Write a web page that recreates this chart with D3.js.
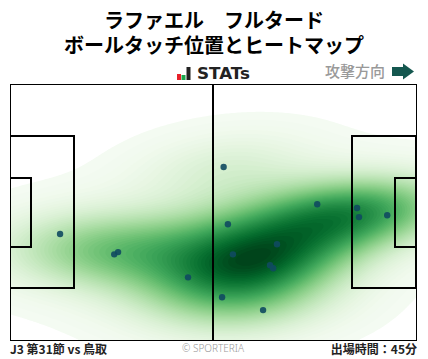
<!DOCTYPE html>
<html>
<head>
<meta charset="utf-8">
<script src="https://cdn.jsdelivr.net/npm/d3@7"></script>
<style>
  html, body { margin: 0; padding: 0; background: #fff; }
  text { font-family: "Noto Sans CJK JP", sans-serif; }
  .title { font-size: 20px; font-weight: 700; fill: #000; text-anchor: middle; }
  .foot { font-size: 12px; font-weight: 700; fill: #222; }
  .copy { font-size: 10px; font-weight: 300; fill: #999; text-anchor: middle; font-family: "Noto Sans", sans-serif; }
  .dir { font-size: 15px; font-weight: 500; fill: #999; text-anchor: end; }
  .logo { font-size: 15px; font-weight: 700; fill: #222; font-family: "DejaVu Sans", sans-serif; }
  .line { fill: none; stroke: #000; stroke-width: 2; shape-rendering: crispEdges; }
  .outer { stroke-width: 1; }
</style>
</head>
<body>
<div id="wrapper"></div>
<script>
// touch positions in metres on a 105 x 68 pitch
const touchX = [55.2, 12.9, 26.9, 27.9, 46.0, 56.3, 79.4, 89.7, 90.2, 97.5, 69.0, 57.6, 67.2, 68.0, 54.8, 65.4];
const touchY = [22.0, 39.8, 45.2, 44.6, 51.3, 37.2, 31.9, 32.9, 35.3, 34.8, 42.5, 45.2, 48.1, 48.9, 56.6, 60.0];

const titleLines = ["ラファエル　フルタード", "ボールタッチ位置とヒートマップ"];
const matchLabel = "J3 第31節 vs 鳥取";
const playedLabel = "出場時間：45分";

// pitch furniture, metres
const pitchLength = 105;
const pitchWidth = 68;
const penaltyDepth = 16.5;
const penaltyWidth = 40.32;
const goalDepth = 5.5;
const goalWidth = 18.32;

const width = 428;
const height = 359;
const pitchBox = { left: 10.2, right: 416.2, top: 84.2, bottom: 340.2 };

const svg = d3.select("#wrapper")
  .append("svg")
    .attr("width", width)
    .attr("height", height)
    .style("display", "block");

const x = d3.scaleLinear().domain([0, pitchLength]).range([pitchBox.left, pitchBox.right]);
const y = d3.scaleLinear().domain([0, pitchWidth]).range([pitchBox.top, pitchBox.bottom]);

// Gaussian KDE with the sample covariance, wider than Scott's rule to fit the picture
const n = touchX.length;
const mx = d3.mean(touchX);
const my = d3.mean(touchY);
const factor = Math.pow(n, -1 / 6) * 1.12;
const sxx = d3.sum(touchX, d => (d - mx) ** 2) / (n - 1) * factor * factor;
const syy = d3.sum(touchY, d => (d - my) ** 2) / (n - 1) * factor * factor;
const sxy = d3.sum(touchX, (d, i) => (d - mx) * (touchY[i] - my)) / (n - 1) * factor * factor;
const det = sxx * syy - sxy * sxy;

const density = (px, py) => d3.sum(touchX, (d, i) => {
  const dx = px - d;
  const dy = py - touchY[i];
  return Math.exp(-0.5 * (syy * dx * dx - 2 * sxy * dx * dy + sxx * dy * dy) / det);
});

const gridW = 204;
const gridH = 129;
const grid = new Float64Array(gridW * gridH);
for (let j = 0; j < gridH; j++) {
  for (let i = 0; i < gridW; i++) {
    grid[j * gridW + i] = density(
      (i + 0.5) / gridW * pitchLength,
      (j + 0.5) / gridH * pitchWidth,
    );
  }
}

const maxDensity = d3.max(grid);
const levelCount = 60;
const lowCut = 0.02;
const thresholds = d3.range(levelCount).map(i => maxDensity * (lowCut + (1 - lowCut) * i / levelCount));

const contours = d3.contours().size([gridW, gridH]).thresholds(thresholds)(grid);
const gridPath = d3.geoPath(d3.geoTransform({
  point(px, py) {
    this.stream.point(x(px / gridW * pitchLength), y(py / gridH * pitchWidth));
  },
}));

// pale tail stays pale: low levels are pushed down the ramp a little
svg.append("g")
  .selectAll("path")
  .data(contours)
  .join("path")
    .attr("d", gridPath)
    .attr("fill", (d, i) => d3.interpolateGreens(0.02 + 0.98 * Math.pow(i / (levelCount - 1), 1.1)));

// Pitch lines. Inner boxes are clipped so their edges do not thicken the touchline.
svg.append("clipPath")
    .attr("id", "pitch-clip")
  .append("rect")
    .attr("x", 10)
    .attr("y", 84)
    .attr("width", 407)
    .attr("height", 257);

const lines = svg.append("g").attr("class", "pitch");
const innerLines = lines.append("g").attr("clip-path", "url(#pitch-clip)");
const addBox = (x0, x1, y0, y1, parent = innerLines) => parent.append("rect")
    .attr("class", "line")
    .attr("x", x(x0))
    .attr("y", y(y0))
    .attr("width", x(x1) - x(x0))
    .attr("height", y(y1) - y(y0));

addBox(0, pitchLength, 0, pitchWidth, lines).classed("outer", true);
addBox(0, penaltyDepth, (pitchWidth - penaltyWidth) / 2, (pitchWidth + penaltyWidth) / 2);
addBox(0, goalDepth, (pitchWidth - goalWidth) / 2, (pitchWidth + goalWidth) / 2);
addBox(pitchLength - penaltyDepth, pitchLength, (pitchWidth - penaltyWidth) / 2, (pitchWidth + penaltyWidth) / 2);
addBox(pitchLength - goalDepth, pitchLength, (pitchWidth - goalWidth) / 2, (pitchWidth + goalWidth) / 2);
lines.append("line")
    .attr("class", "line")
    .attr("x1", x(pitchLength / 2))
    .attr("x2", x(pitchLength / 2))
    .attr("y1", y(0))
    .attr("y2", y(pitchWidth));

// Touches
svg.append("g")
  .selectAll("circle")
  .data(touchX)
  .join("circle")
    .attr("cx", d => x(d))
    .attr("cy", (d, i) => y(touchY[i]))
    .attr("r", 3.2)
    .attr("fill", "#0f4a60")
    .attr("fill-opacity", 0.9);

// Titles
svg.append("g")
  .selectAll("text")
  .data(titleLines)
  .join("text")
    .attr("class", "title")
    .attr("x", 214)
    .attr("y", (d, i) => 28 + i * 25)
    .text(d => d);

// Logo
const logo = svg.append("g").attr("transform", "translate(177, 67)");
const logoBars = [[0, 6, "#e8202a"], [4.5, 5, "#1aa64a"], [9.5, 13, "#222"]];
logo.selectAll("rect")
  .data(logoBars)
  .join("rect")
    .attr("x", d => d[0])
    .attr("y", d => 13 - d[1])
    .attr("width", 4)
    .attr("height", d => d[1])
    .attr("fill", d => d[2]);
logo.append("text")
    .attr("class", "logo")
    .attr("x", 20)
    .attr("y", 12)
    .attr("textLength", 53)
    .attr("lengthAdjust", "spacingAndGlyphs")
    .text("STATs");

// Attack direction
svg.append("text")
    .attr("class", "dir")
    .attr("x", 385)
    .attr("y", 77)
    .text("攻撃方向");
svg.append("path")
    .attr("d", d3.line()([[392, 67], [403, 67], [403, 63.5], [414, 71.5], [403, 79.5], [403, 76], [392, 76]]) + "Z")
    .attr("fill", "#14574f");

// Footer
svg.append("text")
    .attr("class", "foot")
    .attr("x", 10)
    .attr("y", 354)
    .text(matchLabel);
svg.append("text")
    .attr("class", "foot")
    .attr("x", 417)
    .attr("y", 354)
    .attr("text-anchor", "end")
    .text(playedLabel);
svg.append("text")
    .attr("class", "copy")
    .attr("x", 213)
    .attr("y", 352)
    .text("© SPORTERIA");
</script>
</body>
</html>
